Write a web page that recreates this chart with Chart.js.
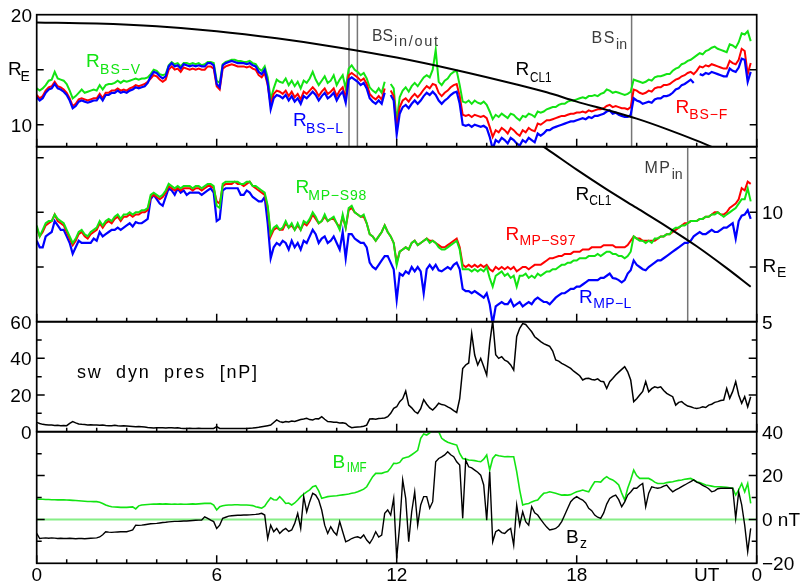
<!DOCTYPE html>
<html><head><meta charset="utf-8">
<script src="https://cdn.jsdelivr.net/npm/chart.js@4/dist/chart.umd.min.js"></script>
<style>
html,body{margin:0;padding:0;background:#fff;}
#wrap{position:relative;width:801px;height:587px;overflow:hidden;background:#fff;}
#wrap canvas{position:absolute;left:0;top:0;width:801px;height:587px;}
</style></head><body>
<div id="wrap">
<canvas id="c1" width="801" height="587"></canvas>
<canvas id="c2" width="801" height="587"></canvas>
<canvas id="c3" width="801" height="587"></canvas>
<canvas id="c4" width="801" height="587"></canvas>
</div>
<script>
// ---------- time grid (UT hours, 0.1 h steps, 0.0 .. 23.8) ----------
const hours = Array.from({length: 239}, (_, i) => i / 10);

// ---------- panel 1: bow shock distances [R_E] ----------
const bsL = [
12.5,12.2,12.4,12.9,13.2,13.3,13.7,13.3,13.2,13.0,
12.7,12.2,11.5,11.7,12.1,12.2,12.1,12.0,12.1,12.2,
12.2,12.6,12.2,12.7,12.7,12.9,12.9,13.1,12.9,13.0,
12.9,13.1,13.2,13.4,13.3,13.4,13.5,13.8,14.4,14.8,
14.7,14.4,14.2,14.4,15.3,15.6,15.3,15.4,15.1,15.5,
15.4,15.3,15.4,15.3,15.4,15.3,15.3,15.6,15.6,15.4,
13.7,13.4,15.4,15.6,15.7,15.8,15.7,15.6,15.6,15.6,
15.5,15.6,15.4,15.3,14.8,14.6,15.0,13.8,11.4,12.4,
12.7,12.6,12.4,12.7,12.2,12.6,12.1,12.4,11.9,12.6,
12.4,12.7,13.0,12.7,12.2,12.6,12.9,12.4,12.6,12.9,
12.2,12.7,13.0,12.0,14.1,14.3,14.1,13.9,13.6,13.8,
13.3,12.4,12.1,11.9,12.2,11.9,12.9,null,12.7,12.2,
9.1,11.0,11.6,11.8,11.5,11.9,12.2,11.9,12.2,12.6,
12.9,12.7,13.0,12.7,12.2,11.9,12.2,12.4,12.7,12.9,
13.0,11.9,10.0,9.9,10.0,9.8,10.0,9.9,9.8,9.9,
9.7,8.9,7.8,8.6,8.4,8.8,8.6,8.3,8.8,8.6,
8.3,8.1,8.6,8.4,8.8,8.6,8.4,9.2,9.0,9.2,
9.5,9.5,9.7,9.8,9.9,10.0,10.1,10.2,10.3,10.3,
10.4,10.5,10.6,10.5,10.7,10.6,10.8,10.8,10.9,11.0,
11.2,11.3,11.0,11.1,10.9,10.8,10.7,10.7,10.9,12.4,
12.2,12.1,11.9,12.0,12.1,12.0,12.3,12.4,12.4,12.6,
12.6,12.7,12.9,13.2,13.3,13.6,13.7,13.9,14.1,13.8,
null,14.6,14.5,14.7,14.6,14.8,14.7,14.6,14.5,14.4,
14.4,15.1,14.9,14.8,15.2,16.0,15.9,13.9,14.8];
const bsF = [
12.7,12.4,12.6,13.1,13.4,13.5,13.9,13.5,13.4,13.2,
12.9,12.4,11.7,11.9,12.3,12.4,12.3,12.2,12.3,12.4,
12.4,12.8,12.4,12.9,12.9,13.1,13.1,13.3,13.1,13.2,
13.1,13.3,13.4,13.6,13.5,13.6,13.7,13.9,14.2,14.5,
14.4,14.1,13.9,14.1,15.0,15.3,15.0,15.1,14.8,15.2,
15.1,15.0,15.1,15.0,15.1,15.0,15.0,15.3,15.3,15.1,
13.5,13.2,15.1,15.3,15.4,15.5,15.4,15.3,15.3,15.3,
15.2,15.3,15.1,15.0,14.5,14.3,14.7,13.6,11.8,12.8,
13.1,13.0,12.8,13.1,12.6,13.0,12.5,12.8,12.3,13.0,
12.8,13.1,13.4,13.1,12.6,13.0,13.3,12.8,13.0,13.3,
12.6,13.1,13.4,12.4,14.5,14.7,14.5,14.3,14.0,14.2,
13.7,12.8,12.5,12.3,12.6,12.3,13.3,null,13.1,12.6,
9.6,11.6,12.2,12.4,12.1,12.5,12.8,12.5,12.8,13.2,
13.5,13.3,13.7,13.6,12.9,12.6,12.9,13.1,13.4,13.6,
13.7,12.6,10.9,10.8,10.9,10.7,10.9,10.8,10.7,10.8,
10.6,9.8,8.9,9.5,9.3,9.7,9.5,9.2,9.7,9.5,
9.2,9.0,9.5,9.3,9.7,9.5,9.4,10.1,10.0,10.2,
10.4,10.4,10.5,10.6,10.7,10.8,10.8,10.9,11.0,11.0,
11.1,11.1,11.2,11.1,11.3,11.2,11.3,11.4,11.4,11.5,
11.7,11.8,11.6,11.7,11.6,11.5,11.5,11.4,11.6,13.2,
13.1,12.9,12.8,12.9,13.1,13.0,13.3,13.4,13.4,13.6,
13.6,13.7,13.9,14.1,14.2,14.4,14.5,14.7,14.8,14.6,
14.9,15.3,15.2,15.4,15.3,15.5,15.4,15.3,15.2,15.1,
15.1,15.8,15.6,15.5,15.9,16.9,16.7,14.6,15.6];
const bsV = [
13.3,13.1,13.3,13.6,14.0,14.1,14.8,14.2,14.1,14.0,
13.7,13.1,12.4,12.6,12.9,13.2,12.9,13.0,13.1,13.2,
13.1,13.6,13.2,13.6,13.7,13.7,13.8,14.0,13.8,14.0,
13.9,14.0,14.1,14.2,14.1,14.2,14.2,14.3,14.6,15.0,
14.9,14.6,14.5,14.6,15.4,15.7,15.5,15.6,15.3,15.6,
15.6,15.5,15.6,15.5,15.6,15.4,15.5,15.7,15.7,15.6,
14.0,13.8,15.5,15.7,15.8,15.9,15.9,15.8,15.8,15.7,
15.7,15.8,15.6,15.5,15.1,14.9,15.3,14.3,12.3,13.3,
14.1,13.9,13.8,14.2,13.6,14.0,13.5,13.9,13.3,14.0,
13.8,14.2,14.8,14.1,13.6,14.0,14.4,13.8,14.0,14.5,
13.6,14.1,14.5,13.3,15.1,15.4,15.0,14.8,14.5,14.7,
14.2,13.4,13.1,12.9,13.3,12.9,13.9,null,13.7,13.3,
10.3,12.5,13.1,13.4,13.0,13.5,13.8,13.5,13.9,14.3,
14.5,14.3,15.0,16.8,13.9,13.6,14.0,14.2,14.6,14.8,
14.9,13.6,12.1,12.0,12.2,11.9,12.2,12.0,11.9,12.1,
11.8,11.2,10.5,10.9,10.7,11.0,10.8,10.6,11.0,10.9,
10.6,10.4,10.8,10.7,11.0,10.9,10.7,11.2,11.1,11.2,
11.4,11.5,11.6,11.6,11.8,11.9,11.9,12.1,12.2,12.2,
12.3,12.4,12.5,12.4,12.6,12.6,12.7,12.6,12.8,12.9,
13.2,13.1,12.9,13.0,12.9,12.8,12.7,12.8,13.0,14.1,
14.0,13.9,13.8,13.9,14.1,14.0,14.3,14.4,14.4,14.5,
14.6,14.6,14.9,15.1,15.2,15.5,15.6,15.8,15.9,16.1,
16.3,16.5,16.4,16.7,16.8,17.0,17.1,16.9,16.8,16.7,
16.6,17.3,17.2,17.0,17.5,18.3,18.2,18.5,17.6];
const rcl1HoursTop = [0, 2, 4, 6, 8, 10, 12, 14, 16, 17, 18, 19, 20, 21, 22, 23];
const rcl1Top = [19.3, 19.2, 18.95, 18.5, 17.85, 17.05, 16.1, 14.95, 13.65, 12.95, 12.1, 11.35, 10.55, 9.6, 8.55, 7.4];
const bsCrossings = [10.41, 10.69, 19.83];

// ---------- panel 2: magnetopause distances [R_E] ----------
const mpS98 = [
9.4,8.9,9.2,9.5,9.6,9.6,9.9,9.7,9.6,9.5,
9.2,8.9,8.6,8.8,9.1,9.2,9.0,8.9,9.1,9.2,
9.3,9.6,9.4,9.6,9.7,9.6,9.8,9.9,9.7,9.9,
9.9,10.0,9.9,10.0,10.0,10.1,10.1,10.2,10.8,10.9,
10.8,10.7,10.8,11.0,11.3,11.2,11.1,11.2,11.1,11.2,
11.2,11.2,11.1,11.2,11.2,11.1,11.2,11.3,11.3,11.2,
10.3,10.2,11.3,11.4,11.4,11.4,11.4,11.4,11.3,11.3,
11.4,11.4,11.2,11.2,11.1,11.0,10.9,10.3,9.0,9.3,
9.4,9.2,9.3,9.6,9.3,9.5,9.2,9.5,9.2,9.6,
9.5,9.7,10.0,9.8,9.5,9.6,9.9,9.6,9.7,9.8,
9.5,9.2,9.9,9.3,10.2,10.3,10.0,9.9,9.8,9.9,
9.5,9.0,8.9,8.7,8.9,9.1,9.4,9.1,8.9,8.6,
7.6,8.2,8.3,8.4,8.3,8.6,8.7,8.5,8.6,8.7,
8.8,8.6,8.7,8.6,8.4,8.3,8.3,8.4,8.5,8.6,
8.7,8.3,7.4,7.4,7.4,7.3,7.4,7.3,7.4,7.3,
7.5,7.0,6.6,7.1,7.2,7.3,7.1,7.2,7.0,7.1,
6.6,7.1,7.1,7.2,7.0,7.1,7.0,7.2,7.1,7.2,
7.3,7.3,7.4,7.4,7.5,7.6,7.6,7.7,7.7,7.8,
7.8,7.9,7.9,7.9,8.0,8.0,8.0,8.1,8.0,8.1,
8.2,8.2,8.1,8.1,8.0,8.0,7.9,8.0,8.2,8.9,
8.8,8.7,8.7,8.6,8.7,8.6,8.8,8.8,8.9,8.9,
9.0,9.0,9.2,9.3,9.3,9.4,9.4,9.5,9.6,9.6,
9.6,9.7,9.7,9.8,9.8,9.9,9.9,10.0,9.9,9.8,
9.9,10.0,10.1,10.2,10.4,10.6,10.6,11.1,10.5];
const mpS97 = [
9.3,8.9,9.1,9.4,9.5,9.6,9.9,9.6,9.5,9.4,
9.1,8.8,8.5,8.7,9.0,9.1,8.9,8.8,9.0,9.1,
9.2,9.5,9.3,9.5,9.6,9.5,9.7,9.8,9.6,9.8,
9.8,9.9,9.8,9.9,9.9,10.0,10.0,10.1,10.7,10.8,
10.7,10.6,10.7,10.9,11.2,11.1,11.0,11.1,11.0,11.1,
11.1,11.1,11.0,11.1,11.1,11.0,11.1,11.2,11.2,11.1,
10.5,10.4,11.2,11.3,11.3,11.3,11.4,11.3,11.3,11.2,
11.3,11.4,11.2,11.1,11.0,10.9,10.8,10.2,8.9,9.2,
9.3,9.2,9.2,9.5,9.3,9.4,9.2,9.4,9.2,9.5,
9.4,9.6,9.9,9.7,9.5,9.6,9.8,9.6,9.7,9.7,
9.5,9.3,9.8,9.3,10.1,10.2,10.0,9.9,9.8,9.8,
9.5,9.0,8.9,8.7,8.9,9.1,9.4,9.1,8.9,8.6,
7.7,8.2,8.3,8.4,8.3,8.6,8.7,8.5,8.6,8.7,
8.8,8.7,8.7,8.6,8.5,8.4,8.4,8.5,8.6,8.7,
8.8,8.4,7.6,7.5,7.6,7.5,7.6,7.5,7.6,7.5,
7.6,7.4,7.3,7.5,7.4,7.5,7.4,7.5,7.4,7.5,
7.3,7.4,7.5,7.5,7.4,7.5,7.6,7.6,7.6,7.7,
7.8,7.9,7.9,7.95,8.0,8.0,8.1,8.1,8.1,8.2,
8.2,8.2,8.3,8.3,8.3,8.4,8.4,8.4,8.4,8.5,
8.5,8.5,8.5,8.4,8.4,8.4,8.4,8.5,8.7,8.9,
8.8,8.8,8.7,8.7,8.7,8.7,8.7,8.8,8.9,8.9,
9.0,9.0,9.1,9.2,9.3,9.4,9.5,9.5,9.6,9.6,
9.6,9.7,9.7,9.8,9.8,9.9,10.0,10.0,9.9,9.9,
10.0,10.2,10.3,10.4,10.6,11.1,11.0,11.4,11.3];
const mpL = [
8.7,8.4,8.4,8.9,9.0,9.1,9.6,9.4,9.2,9.2,
8.9,8.6,8.1,8.4,8.7,8.6,8.6,8.6,8.6,8.8,
8.7,9.1,8.9,9.0,9.1,9.2,9.2,9.3,9.2,9.3,
9.4,9.5,9.35,9.55,9.5,9.5,9.6,9.7,10.6,10.8,
10.6,10.4,10.3,10.7,11.1,11.0,10.8,11.1,10.9,11.0,
10.8,10.9,10.9,10.9,10.9,10.8,10.9,11.0,11.1,10.9,
9.6,9.7,11.0,11.1,11.1,11.1,11.1,11.1,10.8,10.8,
11.0,10.9,10.7,10.6,10.5,10.5,10.7,9.5,7.9,8.4,
8.6,8.5,8.7,8.6,8.3,8.7,8.4,8.6,8.3,8.7,
8.6,8.9,9.2,9.0,8.6,8.8,8.9,8.6,8.7,8.9,
8.6,8.3,9.1,7.9,9.0,9.0,8.8,8.7,8.6,8.6,
8.4,7.7,7.5,7.4,7.6,7.8,8.0,8.0,7.7,7.4,
6.0,7.2,7.1,7.3,7.2,7.5,7.3,7.5,7.3,6.3,
7.4,7.6,7.4,7.6,7.35,7.3,7.4,7.5,7.4,7.6,
7.7,7.4,6.5,6.4,6.4,6.3,6.4,6.3,6.2,6.1,
6.3,5.8,4.9,5.7,5.8,5.9,5.8,5.8,6.0,5.7,
5.8,5.9,5.7,5.8,5.9,5.8,6.0,6.1,6.0,5.9,
5.9,5.8,5.95,6.1,6.2,6.3,6.3,6.4,6.5,6.5,
6.6,6.6,6.7,6.8,6.9,6.9,6.9,6.9,7.0,7.0,
7.1,7.2,7.0,6.97,6.9,6.8,6.9,7.2,7.35,7.8,
7.6,7.5,7.4,7.35,7.5,7.6,7.7,7.8,7.8,7.9,
8.0,8.1,8.2,8.3,8.4,8.5,8.6,8.6,8.7,8.9,
9.0,9.1,9.0,9.0,9.1,9.2,9.1,9.1,9.2,9.3,
9.3,9.4,9.5,8.8,9.6,9.85,9.9,10.1,9.7];
const rcl1HoursMid = [16.5, 17, 18, 19, 20, 21, 22, 23, 23.8];
const rcl1Mid = [13.35, 12.9, 11.95, 11.05, 10.2, 9.35, 8.45, 7.45, 6.6];
const mpCrossings = [21.7];

// ---------- panel 3: solar wind dynamic pressure [nP] ----------
const swPres = [
5.1,4.5,4.0,3.8,3.6,3.6,3.4,3.5,3.3,3.4,
3.3,4.5,5.5,4.8,4.2,4.0,3.9,3.7,3.8,3.6,
3.6,3.5,3.7,3.4,3.3,3.3,3.5,3.2,3.1,3.2,
3.1,3.0,2.9,2.7,2.8,2.7,2.5,2.3,2.2,2.0,
2.2,2.1,2.2,2.0,2.2,2.2,2.0,2.1,1.9,1.8,
1.8,1.9,1.8,1.8,1.9,1.8,1.8,1.7,1.8,1.8,
2.8,1.8,1.7,1.8,1.7,1.8,1.8,1.7,1.8,1.8,
1.8,1.9,2.0,2.2,2.4,2.7,3.0,3.3,3.6,5.0,
6.4,5.5,5.1,5.6,5.3,5.8,5.6,6.1,6.6,6.9,
7.3,6.6,6.4,7.1,7.0,8.2,6.8,5.5,5.4,5.2,
5.1,4.8,4.9,4.5,3.0,2.2,2.4,2.6,2.7,3.0,
3.6,6.9,7.0,6.8,7.2,7.3,7.5,8.2,10.0,12.7,
13.6,16.4,18.0,22.2,14.5,13.0,11.0,10.0,12.5,17.5,
15.0,13.0,11.8,13.5,15.5,14.8,14.5,13.5,12.7,11.5,
10.5,18.0,34.5,36.4,37.5,53.6,41.8,36.4,40.0,35.5,
30.9,48.2,60.5,42.0,40.0,40.9,39.0,38.2,36.4,33.6,
52.0,56.4,59.0,58.5,56.5,54.5,51.8,50.5,49.1,48.0,
47.3,46.5,44.0,39.1,38.5,37.3,36.5,35.5,34.5,33.0,
31.8,30.5,28.2,29.0,29.1,28.5,28.2,28.8,27.5,27.3,
23.6,27.3,29.0,30.9,32.5,34.0,35.5,32.7,28.2,16.4,
18.0,20.0,22.0,27.3,21.8,23.5,24.5,24.0,24.5,22.5,
20.9,20.0,19.1,14.5,16.0,16.4,15.0,14.0,13.6,13.0,
12.7,13.0,13.6,13.2,14.5,15.0,16.0,16.4,17.0,17.3,
23.6,18.2,22.0,27.3,20.0,15.5,19.1,13.6,19.1];

// ---------- panel 4: IMF magnitude and Bz [nT] ----------
const bImf = [
9.3,9.2,9.2,9.1,9.1,9.0,9.0,8.9,8.9,8.9,
8.85,8.8,8.7,8.6,8.5,8.4,8.3,8.2,8.2,8.1,
8.1,7.8,7.3,6.6,6.1,5.8,5.7,5.6,5.5,5.5,
5.5,5.6,5.7,4.8,6.2,6.6,6.7,6.8,6.9,7.0,
7.0,7.1,7.0,7.1,7.0,6.9,7.0,6.9,7.0,6.9,
6.9,7.0,7.1,7.0,7.1,7.2,7.3,7.3,7.3,6.5,
4.3,5.8,6.2,6.5,6.6,6.6,6.7,6.7,6.6,6.6,
6.6,6.5,6.3,5.8,5.5,5.1,6.0,8.1,9.9,9.0,
8.85,10.4,9.0,7.3,7.5,6.6,7.5,8.85,10.4,11.5,
12.6,13.5,14.9,15.4,13.0,9.6,10.0,10.4,10.6,10.7,
10.8,11.0,11.2,11.4,11.6,11.9,12.2,12.6,13.2,13.8,
14.9,17.2,19.5,21.0,21.0,21.0,21.5,21.8,23.5,25.6,
25.5,26.0,27.8,28.2,28.6,29.5,30.5,31.5,37.0,39.0,
38.5,39.5,41.2,40.5,40.0,37.0,36.0,35.2,34.7,34.3,
33.9,30.1,27.8,27.5,27.1,27.0,26.8,26.5,26.3,27.5,
29.4,22.5,27.8,29.4,29.0,28.8,28.6,28.7,28.6,28.6,
21.8,13.4,6.6,7.0,7.3,8.0,8.5,8.85,10.5,11.9,
12.2,12.6,12.3,11.9,11.5,11.1,11.2,11.1,11.3,12.0,
12.6,13.0,13.4,13.0,12.6,15.0,17.2,17.2,17.0,18.5,
19.5,18.5,18.0,17.0,15.7,12.0,8.85,14.2,18.0,22.5,
20.0,18.7,18.7,18.7,18.7,18.0,17.0,16.4,16.4,16.4,
16.8,17.0,17.2,17.5,17.8,18.0,18.3,18.5,18.7,18.0,
17.2,16.8,16.3,15.7,15.5,15.2,14.9,14.9,14.9,14.8,
14.6,14.4,14.2,11.1,13.5,16.4,12.6,16.4,7.3];
const bz = [
-6.4,-8.7,-8.5,-8.4,-8.6,-8.4,-8.5,-8.7,-8.6,-8.7,
-8.7,-8.6,-8.7,-8.8,-8.7,-8.7,-8.8,-8.7,-8.6,-8.5,
-8.4,-8.0,-7.0,-5.6,-5.8,-5.9,-5.8,-5.7,-5.6,-5.6,
-5.6,-5.2,-4.8,-2.6,-2.7,-2.6,-2.4,-2.2,-2.0,-1.9,
-1.8,-1.6,-1.4,-1.3,-1.1,-1.0,-0.9,-0.9,-0.8,-0.7,
-0.7,-0.6,-0.5,-0.4,-0.3,-0.3,1.2,0.5,-0.3,-1.0,
-4.1,-2.6,0.5,1.0,1.5,1.7,1.8,1.9,1.9,2.0,
2.0,2.1,2.2,2.3,2.5,2.8,2.0,-8.7,-2.6,-5.6,
-4.1,-6.4,-5.0,-4.1,-5.5,-4.8,-1.8,2.8,-4.1,10.4,
3.5,8.1,11.9,11.1,8.85,4.3,-2.6,-6.4,-3.3,-5.6,
-7.1,-1.0,-5.6,-10.2,-9.5,-8.7,-8.2,-7.9,-8.5,-7.1,
-9.4,-10.9,-8.7,-5.6,-8.0,-7.1,2.8,4.3,2.0,9.6,
-17.8,-2.6,18.0,9.6,-10.2,3.5,12.6,-2.6,6.6,10.4,
10.4,5.1,8.1,26.3,27.8,28.5,29.4,30.9,29.5,28.6,
26.3,24.8,0.5,27.0,24.0,23.5,22.5,21.5,20.2,15.7,
-0.3,21.7,-10.2,-5.6,-4.8,-6.0,-6.4,-5.0,-4.1,-11.7,
6.6,-2.6,3.5,-1.0,-2.6,5.8,3.0,2.0,0.0,-1.8,
-3.5,-4.8,-4.5,-4.1,-3.0,-1.0,2.0,5.1,8.1,9.5,
10.4,9.5,8.85,7.5,5.1,4.0,2.0,1.0,0.5,3.0,
7.0,9.6,10.5,11.1,9.0,5.8,8.0,11.1,12.5,14.2,
14.2,15.5,16.4,5.8,12.0,14.9,14.5,14.2,14.5,15.2,
15.7,14.0,12.6,13.5,14.2,15.0,15.7,16.5,17.2,18.0,
17.0,16.4,15.5,14.9,14.0,12.6,13.0,14.0,14.2,14.2,
14.2,14.2,14.2,0.5,12.6,6.6,-2.6,-14.7,-4.1];
const zeroHours = [0, 24];
const zeroLine = [0, 0];

// ---------- tick labels ----------
const xTickHours = [0, 6, 12, 18, 22, 24];
const xTickText = ['0', '6', '12', '18', 'UT', '0'];
const p1LabelVals = [20, 10];       const p1LabelText = ['20', '10'];
const p2LabelVals = [10, 5];        const p2LabelText = ['10', '5'];
const p3LabelVals = [60, 40, 20, 0]; const p3LabelText = ['60', '40', '20', '0'];
const p4LabelVals = [40, 20, 0, -20]; const p4LabelText = ['40', '20', '0 nT', '\u221220'];

// ---------- styling / layout ----------
const W = 801, H = 587, XL = 36.7, XR = 756.7;
const GREEN = '#12e412', RED = '#ff0000', BLUE = '#0000ff', GRAY = '#3c3c3c';
const FONT = '"Liberation Sans", Arial, Helvetica, sans-serif';

function drawText(ctx, s, x, y, o) {
  o = o || {};
  ctx.save();
  ctx.font = (o.size || 19) + 'px ' + FONT;
  ctx.fillStyle = o.color || '#000';
  ctx.textBaseline = 'alphabetic';
  ctx.textAlign = 'left';
  const hasLS = ('letterSpacing' in ctx);
  if (hasLS) ctx.letterSpacing = '0px';
  const w0 = ctx.measureText(s).width;
  let ls = 0, sx = 1, vis = w0;
  if (o.w) {
    ls = s.length > 1 ? (o.w - w0) / (s.length - 1) : 0;
    if (ls < 0 || !hasLS) { sx = o.w / w0; ls = 0; }
    vis = o.w;
  }
  let left = x;
  if (o.align === 'right') left = x - vis;
  else if (o.align === 'center') left = x - vis / 2;
  if (hasLS && ls) ctx.letterSpacing = ls + 'px';
  ctx.translate(left, y);
  if (sx !== 1) ctx.scale(sx, 1);
  ctx.fillText(s, 0, 0);
  ctx.restore();
}
function subLabel(ctx, main, sub, mx, my, sx, sy, color, subW, mainSize, subSize, mainW) {
  drawText(ctx, main, mx, my, {size: mainSize || 19, color, w: mainW});
  drawText(ctx, sub, sx, sy, {size: subSize || 14, color, w: subW});
}
function frame(chart, yTicks) {
  const {ctx, chartArea: a, scales: {x, y}} = chart;
  ctx.save();
  ctx.strokeStyle = '#000'; ctx.lineWidth = 1.5;
  ctx.beginPath();
  for (let h = 0; h <= 24; h++) {
    const px = x.getPixelForValue(h), len = h % 6 === 0 ? 8 : 4;
    ctx.moveTo(px, a.bottom); ctx.lineTo(px, a.bottom - len);
  }
  yTicks.forEach(([v, len]) => {
    const py = y.getPixelForValue(v);
    ctx.moveTo(a.left, py); ctx.lineTo(a.left + len, py);
    ctx.moveTo(a.right, py); ctx.lineTo(a.right - len, py);
  });
  ctx.stroke();
  ctx.lineWidth = 1.7;
  ctx.strokeRect(a.left, a.top, a.right - a.left, a.bottom - a.top);
  ctx.restore();
}
function vlines(chart, hrs) {
  const {ctx, chartArea: a, scales: {x}} = chart;
  ctx.save(); ctx.strokeStyle = '#767676'; ctx.lineWidth = 1.5;
  ctx.beginPath();
  hrs.forEach(h => { const px = x.getPixelForValue(h); ctx.moveTo(px, a.top); ctx.lineTo(px, a.bottom); });
  ctx.stroke(); ctx.restore();
}
function series(xs, ys, color, width, order, smooth) {
  return {
    data: ys.map((v, i) => ({x: xs[i], y: v})),
    borderColor: color, borderWidth: width, pointRadius: 0, fill: false,
    tension: smooth ? 0.4 : 0, cubicInterpolationMode: smooth ? 'monotone' : 'default',
    spanGaps: false, clip: 0, order: order
  };
}
function makePanel(id, top, bottom, ymin, ymax, datasets, before, after) {
  return new Chart(document.getElementById(id), {
    type: 'line',
    data: {datasets},
    options: {
      responsive: false, animation: false, devicePixelRatio: 1, events: [],
      layout: {padding: {left: XL, right: W - XR, top: top, bottom: H - bottom}},
      plugins: {legend: {display: false}, tooltip: {enabled: false}},
      scales: {
        x: {type: 'linear', min: 0, max: 24, display: false},
        y: {type: 'linear', min: ymin, max: ymax, display: false}
      }
    },
    plugins: [{
      id: 'deco_' + id,
      beforeDatasetsDraw(chart) { if (before) before(chart); },
      afterDatasetsDraw(chart) { after(chart); }
    }]
  });
}

// ---------- panel 1 ----------
makePanel('c1', 14.7, 146.7, 8, 20, [
  series(rcl1HoursTop, rcl1Top, '#000', 2, 0, true),
  series(hours, bsL, BLUE, 2.2, 1),
  series(hours, bsF, RED, 2, 2),
  series(hours, bsV, GREEN, 2, 3)
], c => vlines(c, bsCrossings), c => {
  const ctx = c.ctx, y = c.scales.y;
  frame(c, [[10, 7], [15, 7]]);
  p1LabelVals.forEach((v, i) => drawText(ctx, p1LabelText[i], 32, y.getPixelForValue(v) + 6.8, {align: 'right'}));
  subLabel(ctx, 'R', 'E', 8, 75, 20.5, 80.5, '#000');
  subLabel(ctx, 'R', 'BS\u2212V', 86, 67, 100, 73.5, GREEN, 40);
  subLabel(ctx, 'R', 'BS\u2212L', 293, 126, 306, 132.5, BLUE, 37);
  subLabel(ctx, 'BS', 'in/out', 372, 40.7, 394, 46.3, GRAY, 44, 16, 14.5, 21);
  subLabel(ctx, 'R', 'CL1', 515.5, 75, 530, 81.5, '#000', 21.5);
  subLabel(ctx, 'BS', 'in', 591.5, 43.3, 616, 48.5, GRAY, 11, 16, 14.5, 23);
  subLabel(ctx, 'R', 'BS\u2212F', 675.5, 113.3, 689.3, 118.5, RED, 38);
});

// ---------- panel 2 ----------
makePanel('c2', 146.7, 321.7, 5, 13, [
  series(rcl1HoursMid, rcl1Mid, '#000', 2, 0, true),
  series(hours, mpS98, GREEN, 2, 1),
  series(hours, mpS97, RED, 2, 2),
  series(hours, mpL, BLUE, 2.2, 3)
], c => vlines(c, mpCrossings), c => {
  const ctx = c.ctx, y = c.scales.y;
  frame(c, [[7.5, 7], [10, 7], [12.5, 7]]);
  p2LabelVals.forEach((v, i) => drawText(ctx, p2LabelText[i], 762, y.getPixelForValue(v) + 6.8));
  subLabel(ctx, 'R', 'E', 762.5, 271.7, 777, 277, '#000');
  subLabel(ctx, 'R', 'MP\u2212S98', 295.5, 193.3, 308.3, 200, GREEN, 58);
  subLabel(ctx, 'R', 'CL1', 575.5, 200, 589.3, 204.5, '#000', 22);
  subLabel(ctx, 'MP', 'in', 644.5, 173.3, 671.7, 179.3, GRAY, 11, 16, 14.5, 25.5);
  subLabel(ctx, 'R', 'MP\u2212S97', 505.5, 240, 519.5, 245, RED, 56);
  subLabel(ctx, 'R', 'MP\u2212L', 579, 303.3, 593.3, 308.3, BLUE, 38);
});

// ---------- panel 3 ----------
makePanel('c3', 321.7, 431.7, 0, 60, [
  series(hours, swPres, '#000', 1.5, 0)
], null, c => {
  const ctx = c.ctx, y = c.scales.y;
  frame(c, [[10, 5], [20, 8], [30, 5], [40, 8], [50, 5]]);
  p3LabelVals.forEach((v, i) => drawText(ctx, p3LabelText[i], 31.5, y.getPixelForValue(v) + 6.8, {align: 'right'}));
  drawText(ctx, 'sw  dyn  pres  [nP]', 77, 378.3, {size: 18, w: 180});
});

// ---------- panel 4 ----------
makePanel('c4', 431.7, 563.3, -20, 40, [
  series(hours, bz, '#000', 1.4, 0),
  series(hours, bImf, GREEN, 1.6, 1),
  series(zeroHours, zeroLine, '#86ee86', 2, 2)
], null, c => {
  const ctx = c.ctx, x = c.scales.x, y = c.scales.y;
  frame(c, [[-10, 5], [0, 8], [10, 5], [20, 8], [30, 5]]);
  p4LabelVals.forEach((v, i) => drawText(ctx, p4LabelText[i], 762, y.getPixelForValue(v) + 6.8));
  xTickHours.forEach((h, i) => {
    let px = x.getPixelForValue(h);
    if (xTickText[i] === 'UT') px += 10;
    drawText(ctx, xTickText[i], px, 580.7, {align: 'center'});
  });
  subLabel(ctx, 'B', 'IMF', 332.5, 467.7, 346.7, 472.3, GREEN, 20);
  subLabel(ctx, 'B', 'z', 566, 543.3, 580, 548, '#000');
});
</script>
</body></html>
